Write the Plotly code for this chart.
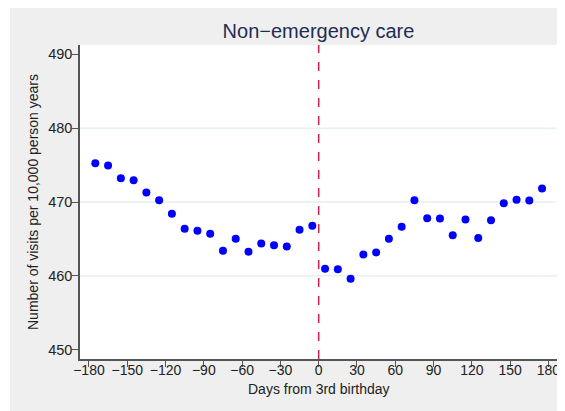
import plotly.graph_objects as go

days = [-175, -165, -155, -145, -135, -125, -115, -105, -95, -85, -75, -65,
        -55, -45, -35, -25, -15, -5, 5, 15, 25, 35, 45, 55, 65, 75, 85, 95,
        105, 115, 125, 135, 145, 155, 165, 175]
visits = [475.25, 474.94, 473.22, 472.95, 471.29, 470.25, 468.40, 466.37,
          466.10, 465.69, 463.39, 465.02, 463.26, 464.39, 464.16, 463.98,
          466.23, 466.77, 460.96, 460.91, 459.61, 462.90, 463.17, 465.02,
          466.64, 470.25, 467.81, 467.77, 465.51, 467.63, 465.11, 467.54,
          469.84, 470.29, 470.20, 471.83]
x_ticks = [-180, -150, -120, -90, -60, -30, 0, 30, 60, 90, 120, 150, 180]
y_ticks = [450, 460, 470, 480, 490]
cutoff = 0

# page has an 8px body margin; figure sized to fill the remaining window
OFF = 8
W, H = 565 - OFF, 411 - OFF
L, R, T, B = 80 - OFF, 8, 45 - OFF, 52
pw, ph = W - L - R, H - T - B

fig = go.Figure()
fig.add_trace(go.Scatter(x=days, y=visits, mode="markers",
                         marker=dict(color="#0000ff", size=8, line=dict(width=0)),
                         showlegend=False, cliponaxis=False))

shapes = []
shapes.append(dict(type="rect", xref="paper", yref="paper",
                   x0=(2 - L) / pw, x1=(W - L + 5) / pw,
                   y0=-(B + 5) / ph, y1=1 + (T + 5) / ph,
                   fillcolor="#efefef", line=dict(width=0), layer="below"))
shapes.append(dict(type="rect", xref="paper", yref="paper",
                   x0=0, x1=1, y0=0, y1=1,
                   fillcolor="white", line=dict(width=0), layer="below"))
for g in y_ticks[1:-1]:
    shapes.append(dict(type="line", xref="paper", yref="y", x0=0, x1=1, y0=g, y1=g,
                       line=dict(color="#e6eff1", width=1.5), layer="below"))
shapes.append(dict(type="line", xref="x", yref="paper", x0=cutoff, x1=cutoff, y0=0, y1=1,
                   line=dict(color="#d0204f", width=1.5, dash="dash")))

annotations = [
    dict(text="Days from 3rd birthday", xref="paper", yref="paper",
         x=0.5, y=-((389 - OFF) - (H - B)) / ph, xanchor="center", yanchor="middle",
         showarrow=False, font=dict(size=14, color="#222222")),
    dict(text="Number of visits per 10,000 person years", xref="paper", yref="paper",
         x=-(L - (33 - OFF)) / pw, y=0.5, xanchor="center", yanchor="middle", textangle=-90,
         showarrow=False, font=dict(size=14, color="#222222")),
]

fig.update_layout(
    width=W, height=H,
    margin=dict(l=L, r=R, t=T, b=B),
    paper_bgcolor="white", plot_bgcolor="rgba(0,0,0,0)",
    font=dict(family="Liberation Sans, Arial, sans-serif", color="#222222"),
    title=dict(text="Non\u2212emergency care", x=0.5, xref="paper", xanchor="center",
               y=1 - (31 - OFF) / H, yanchor="middle",
               font=dict(size=20, color="#1e2d52")),
    shapes=shapes,
    annotations=annotations,
    xaxis=dict(range=[-187, 186.7], tickvals=x_ticks, ticks="outside", ticklen=6,
               tickcolor="#555555", showline=True, linecolor="#555555", linewidth=1.5,
               showgrid=False, zeroline=False, tickfont=dict(size=14), automargin=False,
               ticklabelstandoff=-9),
    yaxis=dict(range=[448.74, 491.26], tickvals=y_ticks, ticks="outside", ticklen=6,
               tickcolor="#555555", showline=True, linecolor="#555555", linewidth=1.5,
               showgrid=False, zeroline=False, tickfont=dict(size=14.5), automargin=False,
               ticklabelstandoff=-3),
)

fig.write_html("out.html")
